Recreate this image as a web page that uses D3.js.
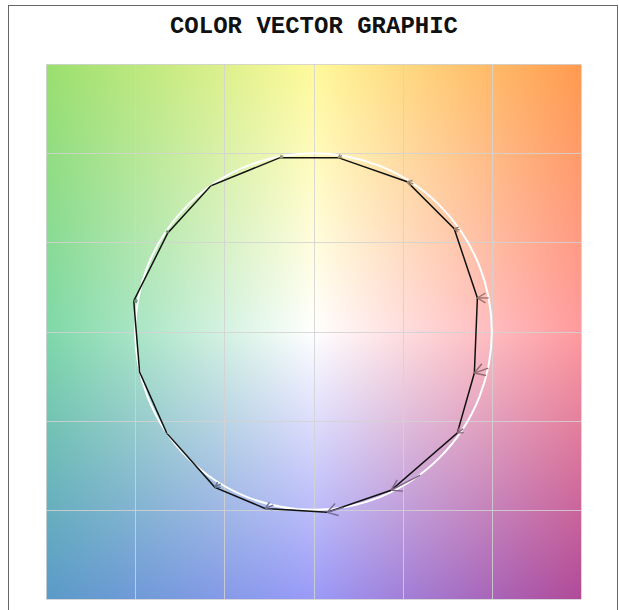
<!DOCTYPE html>
<html>
<head>
<meta charset="utf-8">
<script src="https://cdn.jsdelivr.net/npm/d3@7"></script>
<style>
body{margin:0;background:#fff;}
svg{display:block;}
</style>
</head>
<body>
<div id="chart"></div>
<script>
// reference colours (tails, on the circle) and measured colours (heads), a*/b* units
var refA  = [-17.0, 16.0, 56.0, 82.0, 98.2, 98.0, 84.0, 59.8, 17.1, -22.5, -52.0, -81.9, -97.4, -98.5, -82.3, -57.4];
var refB  = [98.5, 98.7, 82.8, 57.0, 18.8, -20.5, -54.5, -80.6, -98.6, -97.4, -85.4, -57.4, -22.6, 17.2, 56.8, 81.9];
var measA = [-18.8, 13.8, 52.5, 78.9, 91.9, 90.2, 80.6, 43.5, 7.6, -27.2, -55.3, -82.3, -97.5, -100.8, -81.7, -57.6];
var measB = [97.5, 97.5, 84.0, 57.6, 18.8, -23.3, -57.0, -89.0, -101.4, -99.2, -87.4, -57.0, -22.8, 17.1, 55.3, 81.7];
var gridTicks = [-150, -100, -50, 0, 50, 100, 150];
var circleRadius = 100;

function init(){
	vectorChart();
}

function vectorChart(){
	var width = 619;
	var height = 610;
	var left = 46, right = 581, top = 64, bottom = 599;

	var x = d3.scaleLinear().domain([-150, 150]).range([left, right]);
	var y = d3.scaleLinear().domain([-150, 150]).range([bottom, top]);

	var svg = d3.select("#chart").append("svg")
				.attr("width", width)
				.attr("height", height);

	//outer frame
	svg.append("rect")
	   .attr("x", 8.5).attr("y", 5.5)
	   .attr("width", 609).attr("height", 640)
	   .attr("fill", "none")
	   .attr("stroke", "#666")
	   .attr("stroke-width", 1);

	svg.append("text")
	   .attr("x", 314)
	   .attr("y", 33)
	   .attr("text-anchor", "middle")
	   .style("font-family", "'Liberation Mono', 'Courier New', monospace")
	   .style("font-weight", "bold")
	   .style("font-size", "24px")
	   .attr("fill", "#111")
	   .text("COLOR VECTOR GRAPHIC");

	//background colour plane, bilinear blend of 3x3 anchor colours
	var anchors = [["#9adf6e", "#fff99a", "#ff9a4e"],
				   ["#7ed8a8", "#ffffff", "#ff9a9e"],
				   ["#5a9ac8", "#9a9af8", "#b04a98"]].map(function(row){
						return row.map(function(c){ var r = d3.rgb(c); return [r.r, r.g, r.b]; });
				   });

	function bgColor(a, b){
		var u = (a + 150) / 150, v = (150 - b) / 150;
		u = Math.max(0, Math.min(2, u)); v = Math.max(0, Math.min(2, v));
		var i = Math.min(1, Math.floor(u)), j = Math.min(1, Math.floor(v));
		var fu = u - i, fv = v - j;
		var out = [];
		for (var k = 0; k < 3; k++) {
			var t = anchors[j][i][k] * (1 - fu) + anchors[j][i+1][k] * fu;
			var bo = anchors[j+1][i][k] * (1 - fu) + anchors[j+1][i+1][k] * fu;
			out.push(t * (1 - fv) + bo * fv);
		}
		return out;
	}

	var pw = right - left, ph = bottom - top;
	var canvas = document.createElement("canvas");
	canvas.width = pw; canvas.height = ph;
	var ctx = canvas.getContext("2d");
	var img = ctx.createImageData(pw, ph);
	for (var py = 0; py < ph; py++) {
		var b = y.invert(top + py + 0.5);
		for (var px = 0; px < pw; px++) {
			var a = x.invert(left + px + 0.5);
			var c = bgColor(a, b);
			var idx = (py * pw + px) * 4;
			img.data[idx] = c[0]; img.data[idx+1] = c[1]; img.data[idx+2] = c[2]; img.data[idx+3] = 255;
		}
	}
	ctx.putImageData(img, 0, 0);

	svg.append("image")
	   .attr("x", left).attr("y", top)
	   .attr("width", pw).attr("height", ph)
	   .attr("href", canvas.toDataURL());

	//grid
	svg.selectAll("line.vgrid").data(gridTicks).enter()
	   .append("line")
	   .attr("x1", d => Math.round(x(d)) + 0.5).attr("x2", d => Math.round(x(d)) + 0.5)
	   .attr("y1", top).attr("y2", bottom)
	   .attr("stroke", "#d2d2d2").attr("stroke-opacity", 0.85);

	svg.selectAll("line.hgrid").data(gridTicks).enter()
	   .append("line")
	   .attr("y1", d => Math.round(y(d)) + 0.5).attr("y2", d => Math.round(y(d)) + 0.5)
	   .attr("x1", left).attr("x2", right)
	   .attr("stroke", "#d2d2d2").attr("stroke-opacity", 0.85);

	//reference circle
	svg.append("circle")
	   .attr("cx", x(0)).attr("cy", y(0))
	   .attr("r", x(circleRadius) - x(0))
	   .attr("fill", "none")
	   .attr("stroke", "white")
	   .attr("stroke-width", 2);

	//measured polygon
	var pts = measA.map(function(d, i){ return [x(d), y(measB[i])]; });
	svg.append("path")
	   .attr("d", d3.line().curve(d3.curveLinearClosed)(pts))
	   .attr("fill", "none")
	   .attr("stroke", "#111")
	   .attr("stroke-width", 1.5);

	//vectors from reference to measured
	refA.forEach(function(ra, i){
		var x0 = x(ra), y0 = y(refB[i]);
		var x1 = x(measA[i]), y1 = y(measB[i]);
		var dx = x1 - x0, dy = y1 - y0;
		var len = Math.sqrt(dx*dx + dy*dy);
		if (len < 0.5) return;
		var c = bgColor(ra, refB[i]);
		var col = d3.rgb(c[0], c[1], c[2]).darker(1.4).formatHex();
		var ang = Math.atan2(dy, dx);
		var wing = Math.min(len * 0.85, 12);
		var g = svg.append("g").attr("stroke", col).attr("stroke-width", 1.4).attr("fill", "none");
		g.append("line").attr("x1", x0).attr("y1", y0).attr("x2", x1).attr("y2", y1);
		[-0.55, 0.55].forEach(function(off){
			g.append("line")
			 .attr("x1", x1).attr("y1", y1)
			 .attr("x2", x1 - wing * Math.cos(ang + off))
			 .attr("y2", y1 - wing * Math.sin(ang + off));
		});
	});
}

window.onload = init;
</script>
</body>
</html>
